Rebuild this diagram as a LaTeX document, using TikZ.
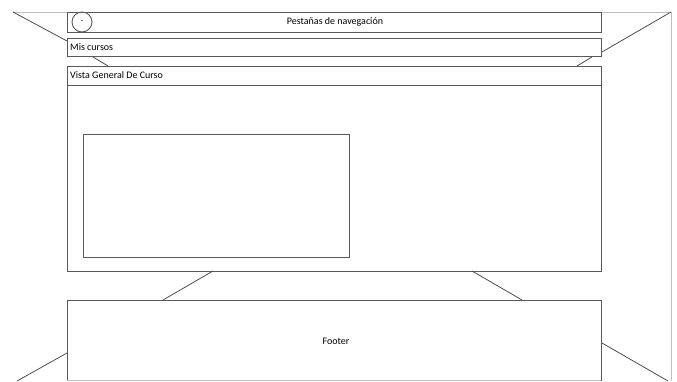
\documentclass[tikz,border=0pt]{standalone}
\usepackage{fontspec}
\setmainfont{Carlito}
\begin{document}
\begin{tikzpicture}[x=1pt,y=-1pt,
  box/.style={draw=black!65, line width=0.9pt},
  frame/.style={draw=black!25, line width=0.7pt},
  link/.style={draw=black!70, line width=0.8pt},
  lbl/.style={font=\fontsize{10}{12}\selectfont, inner sep=0pt}]
\useasboundingbox (0,0) rectangle (677,381);
% outer frame lines
\coordinate (ftl) at (13,12);
\coordinate (ftr) at (671,12);
\coordinate (fbr) at (671,381);
\draw[frame] (ftl) -- (ftr) -- (fbr);
% boxes
\draw[box,fill=white] (67,12) rectangle (601,32);
\node[box, circle, minimum size=20pt, inner sep=0pt, font=\fontsize{8}{9}\selectfont] (tog) at (82,22) {-};
\node[lbl] (nav) at (335,22) {Pestañas de navegación};
\draw[box] (67,38) rectangle (601,56);
\node[lbl, anchor=west] (mis) at (70,47) {Mis cursos};
\draw[box] (67,66) rectangle (601,271);
\draw[box] (67,85) -- (601,85);
\node[lbl, anchor=west] (vista) at (70,75.5) {Vista General De Curso};
\draw[box] (83,134) rectangle (349,257);
\draw[box] (67,300) -- (67,381);
\draw[box] (67,300) -- (601,300) -- (601,381);
\draw[frame] (67,380) -- (601,380);
\node[lbl] (foot) at (336,341) {Footer};
% perspective lines
\coordinate (a1) at (67,41);   \draw[link] (ftl) -- (a1);
\coordinate (a2) at (93,57);   \coordinate (a3) at (108,66); \draw[link] (a2) -- (a3);
\coordinate (b1) at (602,52);  \draw[link] (ftr) -- (b1);
\coordinate (b2) at (592,57);  \coordinate (b3) at (577,66); \draw[link] (b2) -- (b3);
\coordinate (c1) at (213,271); \coordinate (c2) at (163,300); \draw[link] (c1) -- (c2);
\coordinate (d1) at (472,271); \coordinate (d2) at (522,300); \draw[link] (d1) -- (d2);
\coordinate (e1) at (67,353);  \coordinate (e2) at (17,381);  \draw[link] (e1) -- (e2);
\coordinate (g1) at (602,343); \coordinate (g2) at (668,381); \draw[link] (g1) -- (g2);
\end{tikzpicture}
\end{document}
